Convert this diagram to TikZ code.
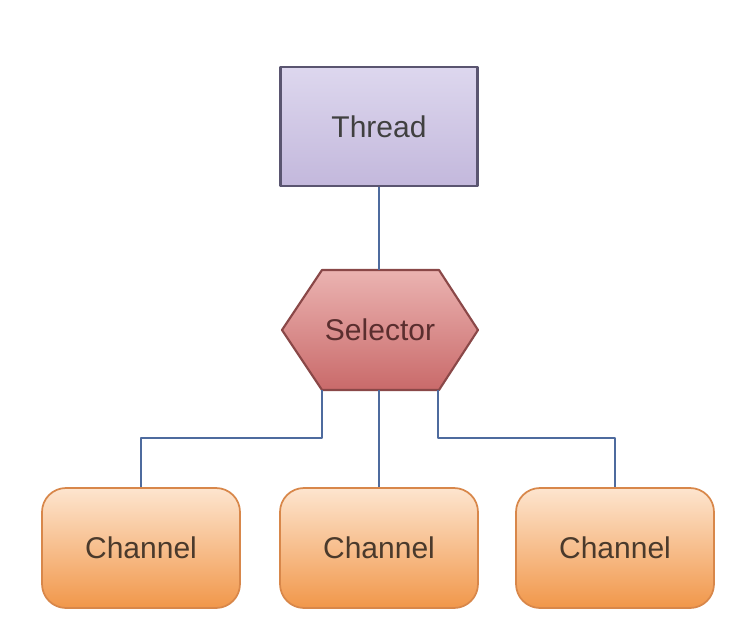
\documentclass[tikz,border=0pt]{standalone}
\usepackage{fontspec}
\setmainfont{Liberation Sans}
\usetikzlibrary{positioning,calc}

\definecolor{thrdtop}{HTML}{DDD7EE}
\definecolor{thrdbot}{HTML}{C3B8DC}
\definecolor{thrdline}{HTML}{5A5570}
\definecolor{seltop}{HTML}{EBB3B1}
\definecolor{selbot}{HTML}{C96A6A}
\definecolor{selline}{HTML}{8A4848}
\definecolor{seltxt}{HTML}{5A2E2E}
\definecolor{chantop}{HTML}{FDE5CF}
\definecolor{chanbot}{HTML}{F1974A}
\definecolor{chanline}{HTML}{D8874A}
\definecolor{chantxt}{HTML}{4A3A2C}
\definecolor{linkblue}{HTML}{4E6B9E}

\begin{document}
\begin{tikzpicture}[x=0.75pt,y=-0.75pt,line join=round]
  \tikzset{every node/.style={font=\fontsize{22.5}{26}\selectfont},
    threadbox/.style={draw=thrdline, line width=1.8pt, top color=thrdtop,
      bottom color=thrdbot, minimum width=147.75pt, minimum height=89.25pt,
      text=black!75},
    selhex/.style={draw=selline, line width=1.6pt, top color=seltop,
      bottom color=selbot},
    seltext/.style={minimum width=147pt, minimum height=90pt, text=seltxt},
    chanbox/.style={draw=chanline, line width=1.3pt, top color=chantop,
      bottom color=chanbot, rounded corners=18pt, minimum width=148.5pt,
      minimum height=90pt, text=chantxt},
    link/.style={draw=linkblue, line width=1.9pt}}

  \useasboundingbox (0,0) rectangle (740,636);

  % selector hexagon
  \coordinate (selc) at (380,330);
  \shade[selhex] ($(selc)+(-58,-60)$) -- ($(selc)+(59,-60)$) -- ($(selc)+(98,0)$)
    -- ($(selc)+(59,60)$) -- ($(selc)+(-58,60)$) -- ($(selc)+(-98,0)$) -- cycle;
  \coordinate (selbl) at ($(selc)+(-58,60)$);
  \coordinate (selbr) at ($(selc)+(58,60)$);

  \node[threadbox] (thread) at (379,126.5) {Thread};
  \node[seltext]   (sel)    at (selc)      {Selector};
  \node[chanbox]   (ch1)    at (141,548)   {Channel};
  \node[chanbox]   (ch2)    at (379,548)   {Channel};
  \node[chanbox]   (ch3)    at (615,548)   {Channel};

  \path[link]
    (thread) -- (sel.north -| thread)
    (sel.south -| ch2) -- (ch2)
    (selbl) -- ++(0,48) -| (ch1)
    (selbr) -- ++(0,48) -| (ch3);
\end{tikzpicture}
\end{document}
